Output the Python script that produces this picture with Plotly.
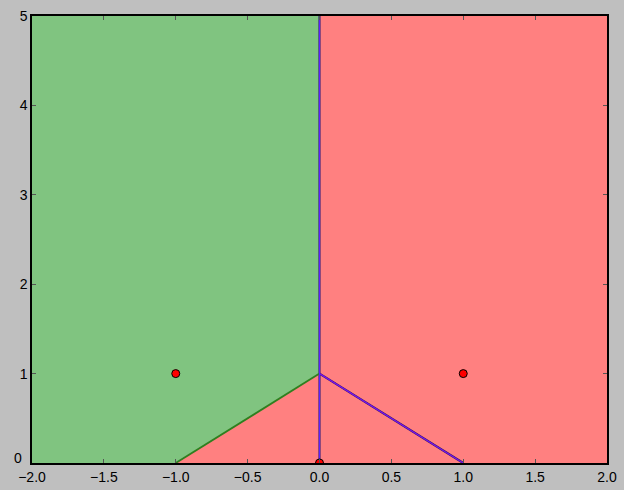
import plotly.graph_objects as go

# Voronoi-like regions
green_x = [-2, -1, 0, 0, -2]
green_y = [0, 0, 1, 5, 5]
red_x = [0, 2, 2, 1, 0]
red_y = [5, 5, 0, 0, 1]
tri_x = [-1, 0, 1]
tri_y = [0, 1, 0]

# Edges
vert_x = [0, 0]
vert_y = [0, 5]
left_edge_x = [-1, 0]
left_edge_y = [0, 1]
right_edge_x = [0, 1]
right_edge_y = [1, 0]

# Sites
pts_x = [-1, 1, 0]
pts_y = [1, 1, 0]

x_ticks = [-2.0, -1.5, -1.0, -0.5, 0.0, 0.5, 1.0, 1.5, 2.0]
x_labels = ["\u22122.0", "\u22121.5", "\u22121.0", "\u22120.5", "0.0", "0.5", "1.0", "1.5", "2.0"]
y_ticks = [0, 1, 2, 3, 4, 5]
y_labels = ["", "1", "2", "3", "4", "5"]

fig = go.Figure()
fig.add_trace(go.Scatter(x=green_x, y=green_y, fill="toself", fillcolor="#80c480",
                         line=dict(width=0), mode="lines", hoverinfo="skip"))
fig.add_trace(go.Scatter(x=red_x, y=red_y, fill="toself", fillcolor="#ff8080",
                         line=dict(width=0), mode="lines", hoverinfo="skip"))
fig.add_trace(go.Scatter(x=tri_x, y=tri_y, fill="toself", fillcolor="#ff8080",
                         line=dict(width=0), mode="lines", hoverinfo="skip"))
# dark underlays
fig.add_trace(go.Scatter(x=right_edge_x, y=right_edge_y, mode="lines", line=dict(color="#332255", width=2.2)))
fig.add_trace(go.Scatter(x=vert_x, y=vert_y, mode="lines", line=dict(color="#2a1a5a", width=2)))
# colored edges
fig.add_trace(go.Scatter(x=left_edge_x, y=left_edge_y, mode="lines", line=dict(color="#2f7f1f", width=1.8)))
fig.add_trace(go.Scatter(x=right_edge_x, y=right_edge_y, mode="lines", line=dict(color="#7a10f0", width=1.3)))
fig.add_trace(go.Scatter(x=vert_x, y=vert_y, mode="lines", line=dict(color="#5a20ff", width=1.2)))
fig.add_trace(go.Scatter(x=pts_x, y=pts_y, mode="markers",
                         marker=dict(color="#ff0000", size=8, line=dict(color="#000000", width=1))))

fig.update_layout(
    width=624, height=490,
    margin=dict(l=32, r=17, t=16, b=27),
    paper_bgcolor="#bfbfbf", plot_bgcolor="#ffffff",
    showlegend=False,
    font=dict(family="Liberation Sans, Arial, sans-serif", size=14, color="#000000"),
    annotations=[dict(text="0", x=0, y=0, xref="paper", yref="y", xanchor="right", yanchor="bottom",
                      xshift=-8, yshift=-5, showarrow=False, font=dict(size=14))],
)
fig.update_xaxes(range=[-2, 2], tickvals=x_ticks, ticktext=x_labels, showgrid=False, zeroline=False,
                 ticks="inside", ticklen=4, tickcolor="#555555", showline=True, linecolor="#000000",
                 linewidth=1.5, mirror="allticks", automargin=False)
fig.update_yaxes(range=[0, 5], tickvals=y_ticks, ticktext=y_labels, showgrid=False, zeroline=False,
                 ticks="inside", ticklen=4, tickcolor="#555555", showline=True, linecolor="#000000",
                 linewidth=1.5, mirror="allticks", automargin=False)

fig.write_html("out.html", config={"displayModeBar": False},
               post_script="document.body.style.margin='0';document.body.style.background='#bfbfbf';")
